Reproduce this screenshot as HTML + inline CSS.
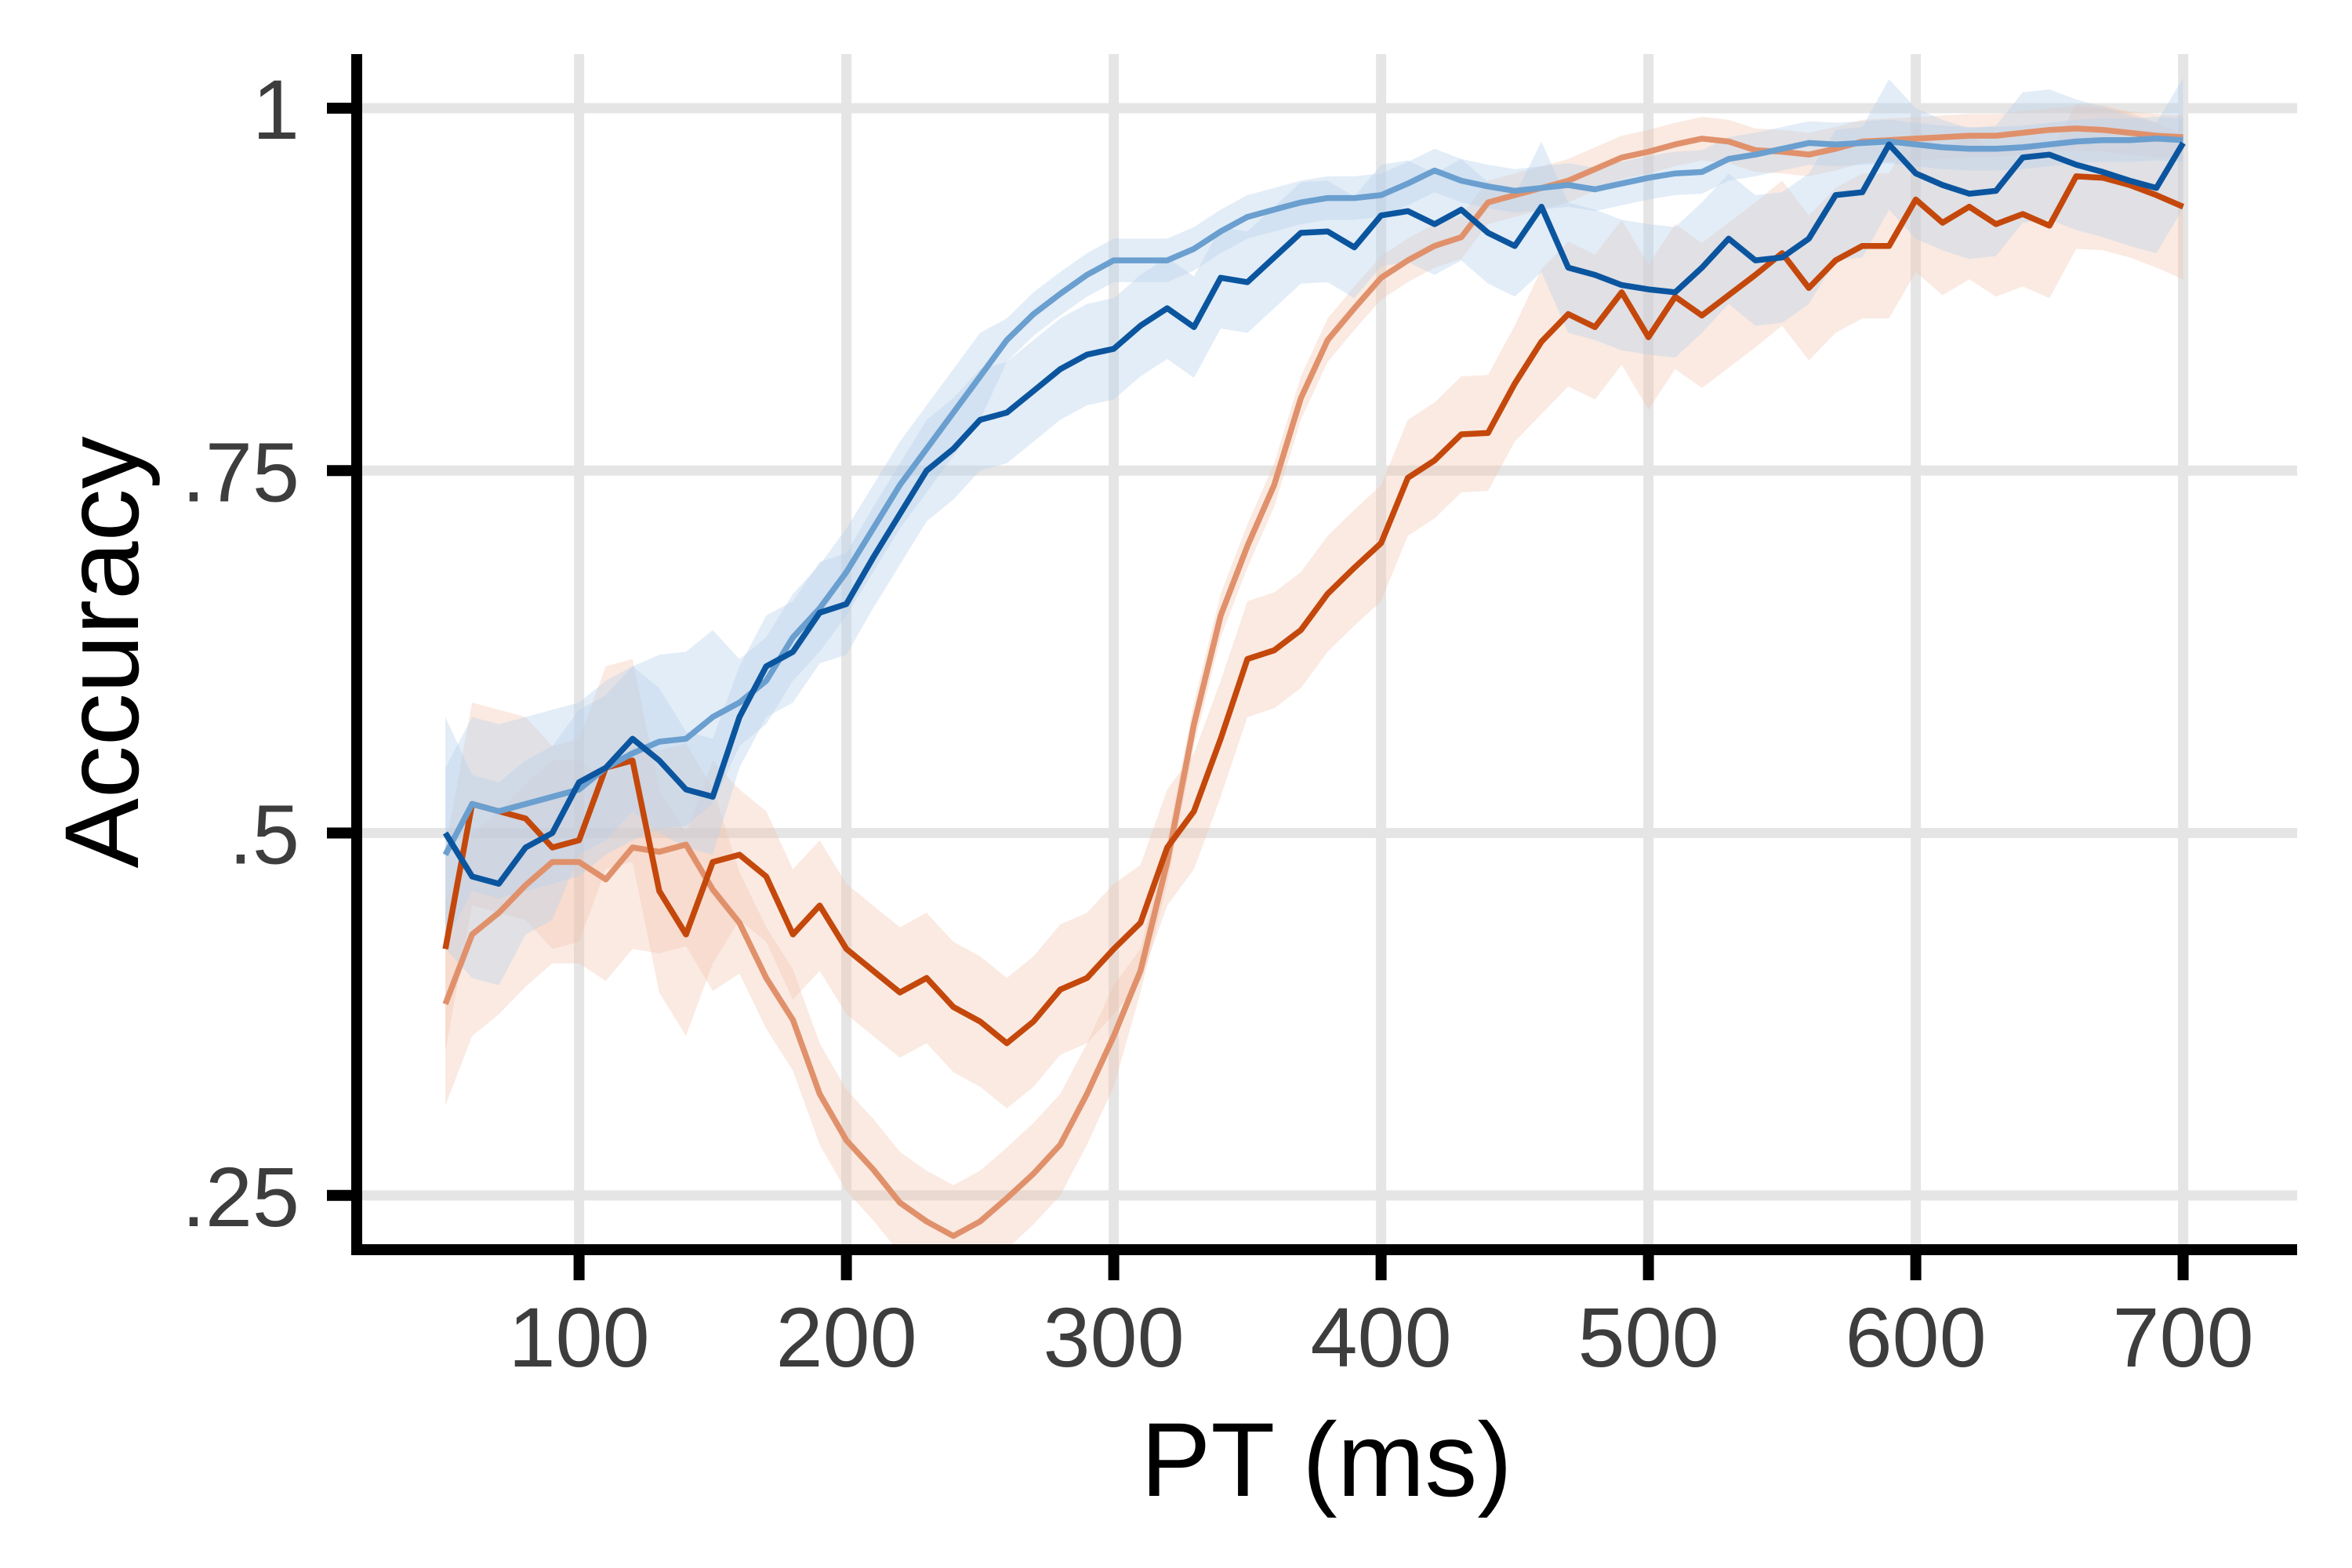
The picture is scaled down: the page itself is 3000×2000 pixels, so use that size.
<!DOCTYPE html>
<html><head><meta charset="utf-8"><style>
html,body{margin:0;padding:0;background:#fff;}
svg{display:block;font-family:"Liberation Sans",Arial,sans-serif;}
</style></head><body>
<svg id="chart" width="3000" height="2000" viewBox="0 0 3000 2000" xmlns="http://www.w3.org/2000/svg">
<defs><clipPath id="plotclip"><rect x="462" y="60" width="2470" height="1527"/></clipPath></defs>
<g id="grid"></g>
<g id="ribbons" clip-path="url(#plotclip)"></g>
<g id="lines" clip-path="url(#plotclip)"></g>
<g id="axes"></g>
<text x="1692" y="1908" font-size="134" text-anchor="middle" fill="#000">PT (ms)</text>
<text transform="translate(176,832) rotate(-90)" font-size="134" text-anchor="middle" fill="#000">Accuracy</text>
</svg>
<script>
const times = [50,60,70,80,90,100,110,120,130,140,150,160,170,180,190,200,210,220,230,240,250,260,270,280,290,300,310,320,330,340,350,360,370,380,390,400,410,420,430,440,450,460,470,480,490,500,510,520,530,540,550,560,570,580,590,600,610,620,630,640,650,660,670,680,690,700];
const darkBlue = [.50,.47,.465,.49,.50,.535,.545,.565,.55,.53,.525,.58,.615,.625,.652,.658,.69,.72,.75,.765,.785,.79,.805,.82,.83,.834,.85,.862,.849,.883,.88,.897,.914,.915,.904,.926,.929,.92,.93,.914,.905,.932,.89,.885,.878,.875,.873,.89,.91,.895,.897,.91,.94,.942,.975,.955,.947,.941,.943,.966,.968,.961,.956,.95,.945,.976];
const lightBlue = [.485,.52,.515,.52,.525,.53,.545,.555,.563,.565,.58,.59,.605,.635,.655,.68,.71,.74,.765,.79,.815,.84,.858,.872,.885,.895,.895,.895,.903,.915,.925,.93,.935,.938,.938,.94,.948,.957,.95,.946,.943,.945,.947,.944,.948,.952,.955,.956,.965,.968,.972,.976,.975,.976,.977,.975,.973,.972,.972,.973,.975,.977,.978,.978,.979,.978];
const darkOrange = [.42,.52,.515,.51,.49,.495,.545,.55,.46,.43,.48,.485,.47,.43,.45,.42,.405,.39,.40,.38,.37,.355,.37,.392,.40,.42,.438,.49,.515,.565,.62,.626,.64,.665,.683,.70,.745,.757,.775,.776,.81,.839,.858,.849,.873,.842,.87,.857,.871,.885,.90,.876,.895,.905,.905,.937,.921,.932,.92,.927,.919,.953,.952,.947,.94,.932];
const lightOrange = [.382,.43,.445,.464,.48,.48,.468,.49,.487,.492,.461,.438,.40,.371,.32,.288,.268,.245,.232,.222,.232,.248,.265,.285,.32,.36,.405,.48,.575,.65,.698,.74,.80,.84,.862,.883,.895,.905,.911,.935,.94,.945,.95,.958,.966,.97,.975,.979,.977,.971,.97,.968,.972,.977,.978,.979,.98,.981,.981,.983,.985,.986,.985,.983,.981,.98];
const seDarkBlue = [.08,.07,.07,.06,.06,.05,.05,.05,.05,.04,.04,.035,.035,.035,.035,.035,.035,.035,.035,.035,.035,.035,.035,.035,.035,.035,.035,.035,.035,.035,.035,.035,.035,.035,.035,.035,.035,.035,.035,.035,.035,.045,.045,.045,.045,.045,.045,.045,.045,.045,.045,.045,.045,.045,.045,.045,.045,.045,.045,.045,.045,.045,.045,.045,.045,.045];
const seLightBlue = [.06,.06,.06,.06,.06,.06,.06,.06,.06,.06,.06,.03,.03,.03,.03,.03,.03,.03,.03,.03,.03,.015,.015,.015,.015,.015,.015,.015,.015,.015,.015,.015,.015,.015,.015,.015,.015,.015,.015,.015,.015,.015,.015,.015,.015,.015,.015,.015,.015,.015,.015,.015,.015,.015,.015,.015,.015,.015,.015,.015,.015,.015,.015,.015,.015,.015];
const seDarkOrange = [.07,.07,.07,.07,.07,.07,.07,.07,.07,.07,.07,.045,.045,.045,.045,.045,.045,.045,.045,.045,.045,.045,.045,.045,.045,.045,.04,.04,.04,.04,.04,.04,.04,.04,.04,.04,.04,.04,.04,.04,.04,.05,.05,.05,.05,.05,.05,.05,.05,.05,.05,.05,.05,.05,.05,.05,.05,.05,.05,.05,.05,.05,.05,.05,.05,.05];
const seLightOrange = [.07,.07,.07,.07,.07,.07,.07,.07,.07,.07,.07,.035,.035,.035,.035,.035,.035,.035,.035,.035,.035,.035,.035,.035,.035,.035,.015,.015,.015,.015,.015,.015,.015,.015,.015,.015,.015,.015,.015,.015,.015,.015,.015,.015,.015,.015,.015,.015,.015,.015,.015,.015,.015,.015,.015,.015,.015,.015,.015,.015,.015,.015,.015,.015,.015,.015];
const xTicks = [100,200,300,400,500,600,700];
const yTicks = [0.25,0.5,0.75,1];
const yTickLabels = [".25",".5",".75","1"];

const NS = "http://www.w3.org/2000/svg";
function xs(t){ return 738.6 + (t-100)*3.41; }
function ys(a){ return 138 + (1-a)*1849; }
function mk(tag, attrs, parent){
  const e = document.createElementNS(NS, tag);
  for (const k in attrs) e.setAttribute(k, attrs[k]);
  parent.appendChild(e);
  return e;
}
const grid = document.getElementById('grid');
const axes = document.getElementById('axes');
const ribbons = document.getElementById('ribbons');
const lines = document.getElementById('lines');
const L = 455, R = 2930, T = 69, B = 1594;

xTicks.forEach((t,i)=>{
  const g = mk('line',{x1:xs(t),x2:xs(t),y1:T,y2:B,stroke:'#e5e5e5','stroke-width':13},grid);
  
  
  const tk = mk('line',{x1:xs(t),x2:xs(t),y1:B,y2:1633,stroke:'#000','stroke-width':14},axes);
  
  
  const lb = mk('text',{x:xs(t),y:1743,'font-size':108,'text-anchor':'middle',fill:'#3d3d3d'},axes);
  lb.textContent = String(t);
  
  
});
yTicks.forEach((v,i)=>{
  const g = mk('line',{x1:L,x2:R,y1:ys(v),y2:ys(v),stroke:'#e5e5e5','stroke-width':13},grid);
  
  
  const tk = mk('line',{x1:417,x2:L,y1:ys(v),y2:ys(v),stroke:'#000','stroke-width':14},axes);
  
  
  const lb = mk('text',{x:382,y:ys(v)+39,'font-size':108,'text-anchor':'end',fill:'#3d3d3d'},axes);
  lb.textContent = yTickLabels[i];
  
  
});
const xa = mk('line',{x1:L-7,x2:R,y1:B,y2:B,stroke:'#000','stroke-width':14},axes);


const ya = mk('line',{x1:L,x2:L,y1:T,y2:B+7,stroke:'#000','stroke-width':14},axes);



const series = [
  {vals:lightOrange, se:seLightOrange, line:'#e0916b', fill:'#f2c3ab', op:0.35, name:'light-orange'},
  {vals:darkOrange, se:seDarkOrange, line:'#c4480b', fill:'#f2c3ab', op:0.35, name:'dark-orange'},
  {vals:lightBlue, se:seLightBlue, line:'#6a9fcf', fill:'#b9d3ec', op:0.4, name:'light-blue'},
  {vals:darkBlue, se:seDarkBlue, line:'#0b559f', fill:'#b9d3ec', op:0.4, name:'dark-blue'}
];
series.forEach(s=>{
  let up = times.map((t,i)=>xs(t).toFixed(1)+','+ys(s.vals[i]+s.se[i]).toFixed(1));
  let dn = times.map((t,i)=>xs(t).toFixed(1)+','+ys(s.vals[i]-s.se[i]).toFixed(1)).reverse();
  const rb = mk('polygon',{points:up.concat(dn).join(' '),fill:s.fill,'fill-opacity':s.op,stroke:'none'},ribbons);
  
  
});
series.forEach(s=>{
  const pts = times.map((t,i)=>xs(t).toFixed(1)+','+ys(s.vals[i]).toFixed(1)).join(' ');
  const pl = mk('polyline',{points:pts,fill:'none',stroke:s.line,'stroke-width':7.5,'stroke-linejoin':'round'},lines);
  
  
});
</script>
</body></html>
